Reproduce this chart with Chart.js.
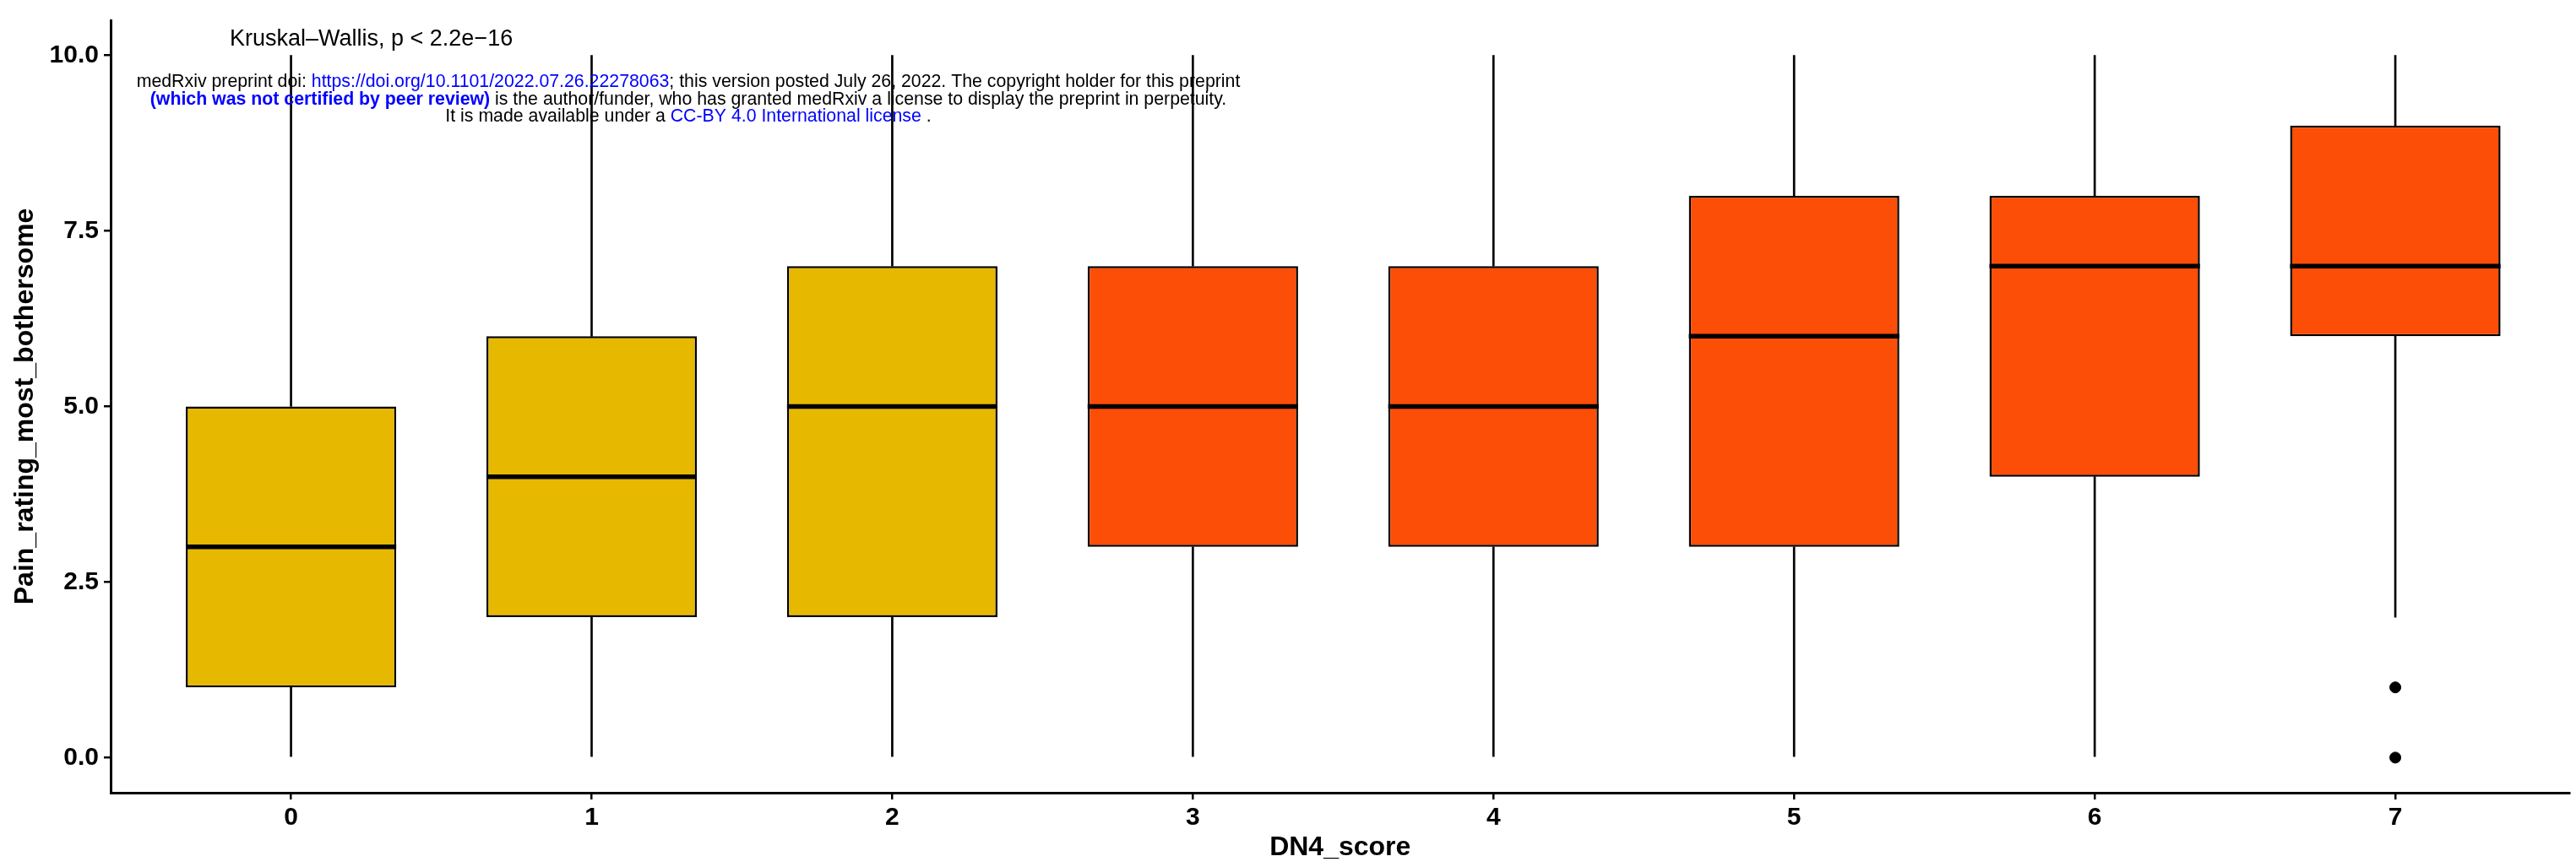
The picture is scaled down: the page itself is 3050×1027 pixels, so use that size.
<!DOCTYPE html>
<html>
<head>
<meta charset="utf-8">
<script src="https://cdn.jsdelivr.net/npm/chart.js@4"></script>
<style>
  html, body { margin: 0; padding: 0; background: #fff; }
  #wrap { width: 3050px; height: 1027px; position: relative; }
</style>
</head>
<body>
<div id="wrap"><canvas id="chart"></canvas></div>
<script>
// data
var categories = [0, 1, 2, 3, 4, 5, 6, 7];
var whiskerLow = [0, 0, 0, 0, 0, 0, 0, 2];
var q1 = [1, 2, 2, 3, 3, 3, 4, 6];
var median = [3, 4, 5, 5, 5, 6, 7, 7];
var q3 = [5, 6, 7, 7, 7, 8, 8, 9];
var whiskerHigh = [10, 10, 10, 10, 10, 10, 10, 10];
var outlierX = [7, 7];
var outlierY = [1, 0];
var boxColors = ['#E7B800', '#E7B800', '#E7B800', '#FC4E07', '#FC4E07', '#FC4E07', '#FC4E07', '#FC4E07'];
var yTicks = [0, 2.5, 5, 7.5, 10];

var FONT = '"Liberation Sans", Arial, Helvetica, sans-serif';

// median line for each box, drawn over the box bars
var medianPlugin = {
  id: 'medianLines',
  afterDatasetsDraw: function (chart) {
    var meta = chart.getDatasetMeta(2);
    var y = chart.scales.y;
    var ctx = chart.ctx;
    ctx.save();
    ctx.strokeStyle = '#000';
    ctx.lineWidth = 5.5;
    meta.data.forEach(function (bar, i) {
      var py = y.getPixelForValue(median[i]);
      ctx.beginPath();
      ctx.moveTo(bar.x - bar.width / 2, py);
      ctx.lineTo(bar.x + bar.width / 2, py);
      ctx.stroke();
    });
    ctx.restore();
  }
};

// draws a line of text made of coloured pieces, centred on cx
function drawPieces(ctx, pieces, cx, baseline, size) {
  var total = 0;
  pieces.forEach(function (p) {
    ctx.font = (p.bold ? 'bold ' : '') + size + 'px ' + FONT;
    p.w = ctx.measureText(p.text).width;
    total += p.w;
  });
  var x = cx - total / 2;
  pieces.forEach(function (p) {
    ctx.font = (p.bold ? 'bold ' : '') + size + 'px ' + FONT;
    ctx.fillStyle = p.color;
    ctx.fillText(p.text, x, baseline);
    x += p.w;
  });
}

var textPlugin = {
  id: 'annotations',
  afterDraw: function (chart) {
    var ctx = chart.ctx;
    ctx.save();
    ctx.textAlign = 'left';
    ctx.textBaseline = 'alphabetic';
    ctx.fillStyle = '#000';
    ctx.font = '27px ' + FONT;
    ctx.fillText('Kruskal\u2013Wallis, p < 2.2e\u221216', 272, 54);

    var blue = '#0000FF';
    drawPieces(ctx, [
      { text: 'medRxiv preprint doi: ', color: '#000' },
      { text: 'https://doi.org/10.1101/2022.07.26.22278063', color: blue },
      { text: '; this version posted July 26, 2022. The copyright holder for this preprint', color: '#000' }
    ], 815, 103, 21.3);
    drawPieces(ctx, [
      { text: '(which was not certified by peer review)', color: blue, bold: true },
      { text: ' is the author/funder, who has granted medRxiv a license to display the preprint in perpetuity.', color: '#000' }
    ], 815, 123.5, 21.3);
    drawPieces(ctx, [
      { text: 'It is made available under a ', color: '#000' },
      { text: 'CC-BY 4.0 International license', color: blue },
      { text: ' .', color: '#000' }
    ], 815, 144, 21.3);
    ctx.restore();
  }
};

var ctx = document.getElementById('chart').getContext('2d');
var chart = new Chart(ctx, {
  type: 'bar',
  data: {
    datasets: [
      {
        label: 'lower whisker',
        data: categories.map(function (c, i) { return { x: c, y: [whiskerLow[i], q1[i]] }; }),
        backgroundColor: '#000',
        barThickness: 2,
        grouped: false,
        order: 3
      },
      {
        label: 'upper whisker',
        data: categories.map(function (c, i) { return { x: c, y: [q3[i], whiskerHigh[i]] }; }),
        backgroundColor: '#000',
        barThickness: 2,
        grouped: false,
        order: 3
      },
      {
        label: 'box',
        data: categories.map(function (c, i) { return { x: c, y: [q1[i], q3[i]] }; }),
        backgroundColor: boxColors,
        borderColor: '#000',
        borderWidth: 2.5,
        borderSkipped: false,
        barPercentage: 0.7,
        categoryPercentage: 1.0,
        grouped: false,
        order: 2
      },
      {
        type: 'scatter',
        label: 'outliers',
        data: outlierX.map(function (x, i) { return { x: x, y: outlierY[i] }; }),
        backgroundColor: '#000',
        borderColor: '#000',
        pointRadius: 6.5,
        order: 1
      }
    ]
  },
  options: {
    responsive: true,
    maintainAspectRatio: false,
    animation: false,
    layout: { padding: { top: 12, right: 0, left: 0, bottom: 0 } },
    plugins: {
      legend: { display: false },
      tooltip: { enabled: false }
    },
    scales: {
      x: {
        type: 'linear',
        offset: false,
        min: -0.6,
        max: 7.58,
        afterBuildTicks: function (scale) {
          scale.ticks = categories.map(function (c) { return { value: c }; });
        },
        afterFit: function (scale) { scale.height = 88; },
        grid: { display: true, offset: false, drawOnChartArea: false, drawTicks: true, tickLength: 8, color: '#000', lineWidth: 2.5 },
        border: { display: true, color: '#000', width: 3 },
        ticks: {
          padding: 4,
          color: '#000',
          font: { family: FONT, size: 30, weight: 'bold' },
          callback: function (value) { return String(value); }
        },
        title: {
          display: true,
          text: 'DN4_score',
          color: '#000',
          font: { family: FONT, size: 32, weight: 'bold' },
          padding: { top: 0, bottom: 4 }
        }
      },
      y: {
        type: 'linear',
        min: -0.5,
        max: 10.5,
        afterBuildTicks: function (scale) {
          scale.ticks = yTicks.map(function (v) { return { value: v }; });
        },
        afterFit: function (scale) { scale.width = 131; },
        grid: { display: true, drawOnChartArea: false, drawTicks: true, tickLength: 8, color: '#000', lineWidth: 2.5 },
        border: { display: true, color: '#000', width: 3 },
        ticks: {
          padding: 6,
          color: '#000',
          font: { family: FONT, size: 30, weight: 'bold' },
          callback: function (value) { return value.toFixed(1); }
        },
        title: {
          display: true,
          text: 'Pain_rating_most_bothersome',
          color: '#000',
          font: { family: FONT, size: 32, weight: 'bold' },
          padding: { top: 11, bottom: 0 }
        }
      }
    }
  },
  plugins: [medianPlugin, textPlugin]
});
</script>
</body>
</html>
